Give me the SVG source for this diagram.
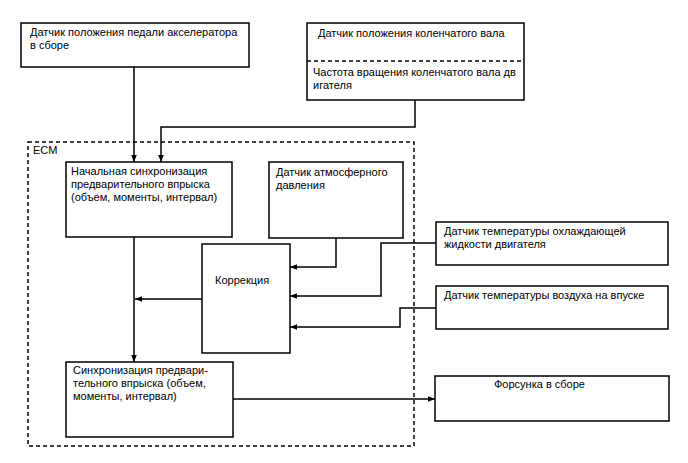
<svg xmlns="http://www.w3.org/2000/svg" width="688" height="463" viewBox="0 0 688 463">
<style>
.box{fill:#fff;stroke:#000;stroke-width:1.5}
.t{font-family:"Liberation Sans",Arial,sans-serif;font-size:11px;fill:#000}
.c{fill:none;stroke:#000;stroke-width:1.5}
.d{fill:none;stroke:#000;stroke-width:1.5;stroke-dasharray:4 3}
</style>
<defs>
<marker id="a" viewBox="0 0 10 10" refX="10" refY="5" markerWidth="7" markerHeight="7" markerUnits="userSpaceOnUse" orient="auto">
<path d="M0,1 L10,5 L0,9 Z" fill="#000"/>
</marker>
</defs>
<rect width="688" height="463" fill="#fff"/>
<g id="ecm">
<rect class="d" x="28" y="142" width="386" height="304"/>
<text class="t" x="33" y="154">ECM</text>
</g>
<g id="connectors">
<path class="c" d="M134,67 V162" marker-end="url(#a)"/>
<path class="c" d="M415,100 V127 H161 V162" marker-end="url(#a)"/>
<path class="c" d="M134,237 V362" marker-end="url(#a)"/>
<path class="c" d="M202,299 H135" marker-end="url(#a)"/>
<path class="c" d="M336,238 V267 H290" marker-end="url(#a)"/>
<path class="c" d="M436,243 H381 V296 H290" marker-end="url(#a)"/>
<path class="c" d="M436,308 H400 V327 H290" marker-end="url(#a)"/>
<path class="c" d="M233,399 H435" marker-end="url(#a)"/>
</g>
<g id="pedal">
<rect class="box" x="21" y="23" width="228" height="44"/>
<text class="t" x="30" y="36">Датчик положения педали акселератора</text>
<text class="t" x="30" y="49">в сборе</text>
</g>
<g id="crank">
<rect class="box" x="307" y="23" width="217" height="77"/>
<line class="d" x1="307" y1="61" x2="524" y2="61"/>
<text class="t" x="318" y="37">Датчик положения коленчатого вала</text>
<text class="t" x="313" y="76">Частота вращения коленчатого вала дв</text>
<text class="t" x="313" y="89">игателя</text>
</g>
<g id="initial">
<rect class="box" x="66" y="162" width="166" height="75"/>
<text class="t" x="71" y="175">Начальная синхронизация</text>
<text class="t" x="71" y="188">предварительного впрыска</text>
<text class="t" x="71" y="201">(объем, моменты, интервал)</text>
</g>
<g id="atm">
<rect class="box" x="269" y="162" width="134" height="76"/>
<text class="t" x="276" y="176">Датчик атмосферного</text>
<text class="t" x="276" y="189">давления</text>
</g>
<g id="correction">
<rect class="box" x="202" y="244" width="88" height="109"/>
<text class="t" x="215" y="284">Коррекция</text>
</g>
<g id="coolant">
<rect class="box" x="436" y="222" width="232" height="43"/>
<text class="t" x="444" y="235">Датчик температуры охлаждающей</text>
<text class="t" x="444" y="248">жидкости двигателя</text>
</g>
<g id="air">
<rect class="box" x="436" y="286" width="232" height="43"/>
<text class="t" x="444" y="299">Датчик температуры воздуха на впуске</text>
</g>
<g id="sync">
<rect class="box" x="66" y="362" width="167" height="75"/>
<text class="t" x="73" y="374">Синхронизация предвари-</text>
<text class="t" x="73" y="387">тельного впрыска (объем,</text>
<text class="t" x="73" y="400">моменты, интервал)</text>
</g>
<g id="injector">
<rect class="box" x="435" y="376" width="234" height="45"/>
<text class="t" x="494" y="388">Форсунка в сборе</text>
</g>
</svg>
